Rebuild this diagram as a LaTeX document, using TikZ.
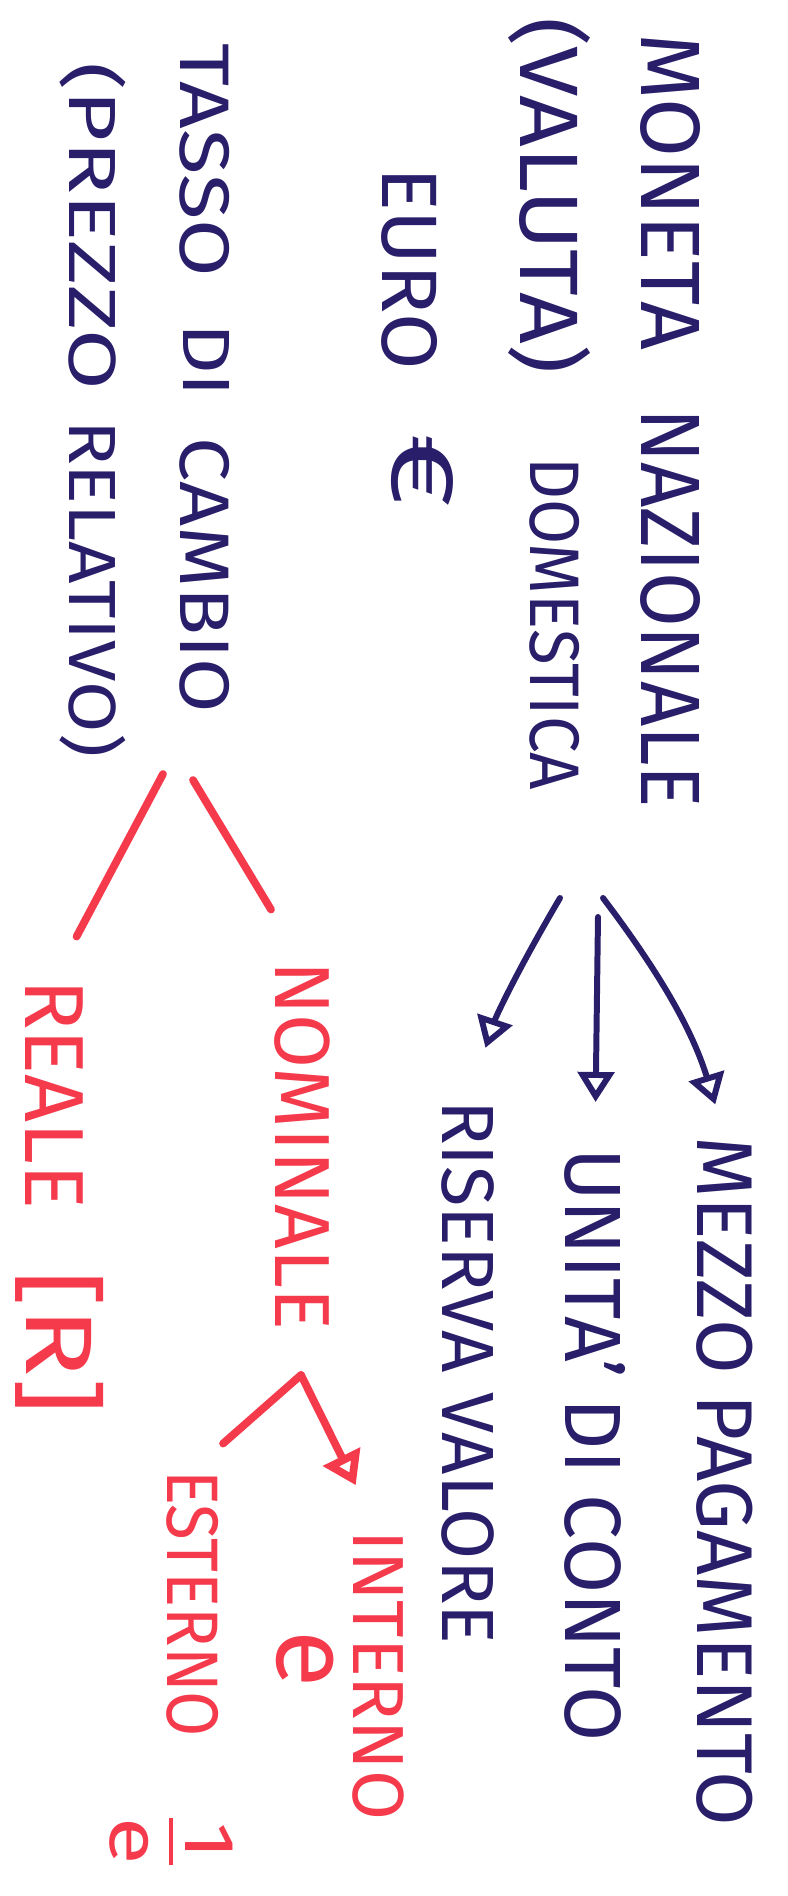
\documentclass[tikz,border=0pt]{standalone}
\usepackage{fontspec}
\usepackage{amsmath}
\setmainfont{Fira Sans}
\usetikzlibrary{arrows.meta}
\definecolor{inkblue}{RGB}{40,30,105}
\definecolor{inkred}{RGB}{245,58,76}
\tikzset{
every picture/.style={
line width=2pt
}}
\tikzset{hand/.style={rotate=-90, anchor=west, inner sep=0pt, outer sep=0pt},
  bluetext/.style={hand, text=inkblue},
  redtext/.style={hand, text=inkred},
  bluearrow/.style={draw=inkblue, line width=1.7pt, line cap=round,
    -{Triangle[open,length=3mm,width=3.6mm]}},
  redline/.style={draw=inkred, line width=2.2pt, line cap=round},
  redarrow/.style={redline, -{Triangle[open,length=3.2mm,width=4mm]}}}
\newcommand{\handfit}[2]{\resizebox{#1}{!}{#2}}
\newcommand{\handbox}[3]{\resizebox*{#1}{#2}{#3}}

\begin{document}
\begin{tikzpicture}[x=0.01cm, y=-0.01cm]
\useasboundingbox (0,0) rectangle (787,1896);
\fill[white] (0,0) rectangle (787,1896);
% moneta (blue)
\node[bluetext] (moneta) at (671,33) {\handbox{3.17cm}{0.6cm}{MONETA}};
\node[bluetext] (nazionale) at (671,408) {\handbox{4.0cm}{0.6cm}{NAZIONALE}};
\node[bluetext] (valuta) at (550,17) {\handbox{3.56cm}{0.82cm}{(VALUTA)}};
\node[bluetext] (domestica) at (555,457) {\handbox{3.33cm}{0.5cm}{DOMESTICA}};
\node[bluetext] (euro) at (410,167) {\handbox{2.03cm}{0.56cm}{EURO}};
\node[bluetext] (eurosign) at (422,433) {\handbox{0.75cm}{0.62cm}{€}};
\node[bluetext] (mezzo) at (725,1136) {\handfit{6.90cm}{MEZZO PAGAMENTO}};
\node[bluetext] (unita) at (595,1148) {\handfit{5.93cm}{UNITA' DI CONTO}};
\node[bluetext] (riserva) at (468,1100) {\handfit{5.44cm}{RISERVA VALORE}};
\coordinate (forkl) at (560,898);
\coordinate (forkm) at (598,917);
\coordinate (forkr) at (603,898);
\draw[bluearrow, shorten >=0.55cm] (forkl) to[bend right=6] (riserva.west);
\draw[bluearrow, shorten >=0.46cm] (forkm) -- (unita.west);
\draw[bluearrow, shorten >=0.33cm] (forkr) to[bend left=10] (mezzo.west);
% tasso di cambio
\node[bluetext] (tasso) at (205,43) {\handbox{2.34cm}{0.5cm}{TASSO}};
\node[bluetext] (di) at (207,323) {\handbox{0.74cm}{0.46cm}{DI}};
\node[bluetext] (cambio) at (205,437) {\handbox{2.76cm}{0.5cm}{CAMBIO}};
\node[bluetext] (prezzo) at (93,62) {\handbox{3.28cm}{0.66cm}{(PREZZO}};
\node[bluetext] (relativo) at (93,420) {\handbox{3.37cm}{0.66cm}{RELATIVO)}};
% red branches:
\node[redtext] (nominale) at (302,961) {\handfit{3.69cm}{NOMINALE}};
\node[redtext] (reale) at (54,979) {\handfit{2.30cm}{REALE}};
\node[redtext] (realer) at (60,1270) {\handbox{1.45cm}{0.88cm}{[R]}};
\coordinate (tasl) at (163,774);
\coordinate (tasr) at (193,780);
\draw[redline, shorten >=0.48cm] (tasl) -- (reale.west);
\draw[redline, shorten >=0.6cm] (tasr) -- (nominale.west);
% interno / esterno
\node[redtext] (interno) at (378,1530) {\handfit{2.90cm}{INTERNO}};
\node[redtext] (ein) at (305,1630) {\handfit{0.57cm}{e}};
\node[redtext] (esterno) at (193,1470) {\handbox{2.67cm}{0.52cm}{ESTERNO}};
\node[redtext] (eest) at (171,1803) {\handbox{0.77cm}{1.23cm}{$\frac{\text{1}}{\text{e}}$}};
\coordinate (nomfork) at (301,1375);
\draw[redline, shorten >=0.4cm] (nomfork) -- (esterno.west);
\draw[redarrow, shorten >=0.5cm] (nomfork) -- (interno.west);
\end{tikzpicture}
\end{document}
